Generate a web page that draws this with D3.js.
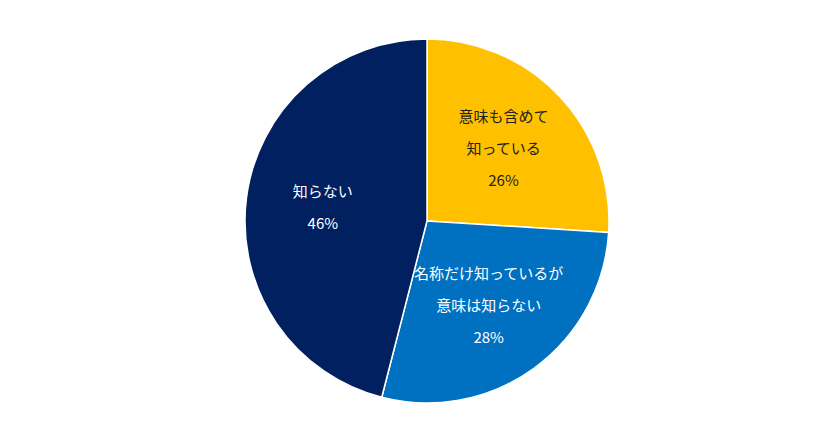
<!DOCTYPE html><html><head><meta charset="utf-8"><script src="https://cdn.jsdelivr.net/npm/d3@7"></script>
<style>body{margin:0;background:#fff}</style></head><body><svg width="840" height="433"></svg>
<script>
const categories=[["意味も含めて","知っている"],["名称だけ知っているが","意味は知らない"],["知らない"]];
const values=[26,28,46];
const colors=["#FFC000","#0070C0","#002060"];
const textColors=["#222","#fff","#fff"];
const svg=d3.select("svg"),cx=427,cy=221,r=182;
const g=svg.append("g").attr("transform",`translate(${cx},${cy})`);
const pie=d3.pie().sort(null)(values);
const arc=d3.arc().innerRadius(0).outerRadius(r);
const la=d3.arc().innerRadius(105).outerRadius(105);
g.selectAll("path").data(pie).join("path").attr("d",arc).attr("fill",(d,i)=>colors[i]).attr("stroke","#fff").attr("stroke-width",1.5);
pie.forEach((d,i)=>{
  const [x,y]=la.centroid(d);
  const lines=[...categories[i],values[i]+"%"];
  const t=g.append("text").attr("text-anchor","middle").attr("fill",textColors[i])
    .attr("font-family","'Noto Sans CJK JP',sans-serif").attr("font-size",15);
  const h=32, y0=y-(lines.length-1)*h/2;
  lines.forEach((l,k)=>t.append("tspan").attr("x",x).attr("y",y0+k*h).attr("dy","0.35em").text(l));
});
</script></body></html>
